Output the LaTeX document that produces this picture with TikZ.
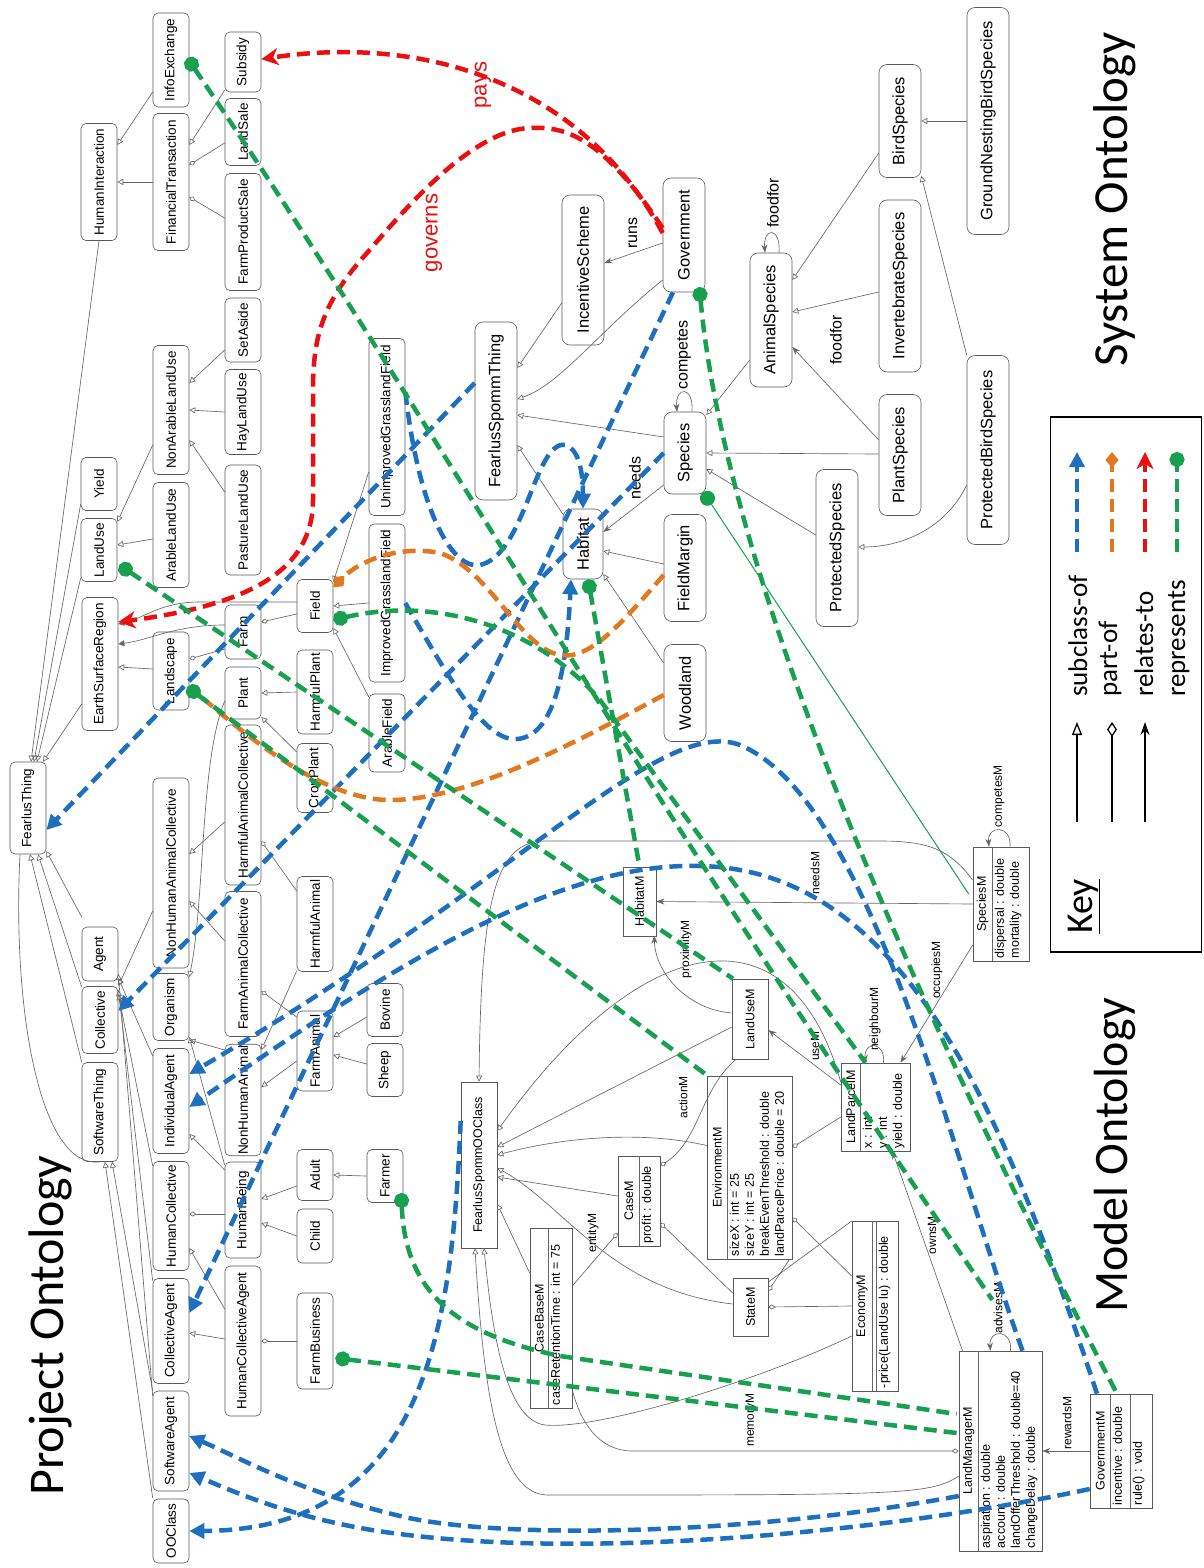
\documentclass[tikz,border=0pt]{standalone}
\usepackage{fontspec}
\setmainfont{Liberation Sans}
\newfontfamily\calib{Carlito}
\usetikzlibrary{arrows.meta,calc}
\definecolor{cblue}{RGB}{30,112,190}
\definecolor{corange}{RGB}{226,120,32}
\definecolor{cred}{RGB}{232,16,16}
\definecolor{cgreen}{RGB}{24,160,80}
\begin{document}
\begin{tikzpicture}[x=1pt,y=-1pt,
  pn/.style={draw=black!65, fill=white, rounded corners=5pt, rotate=90, minimum height=36pt, inner sep=1pt, line width=0.6pt, font=\fontsize{13.5}{14}\selectfont},
  sn/.style={pn, minimum height=42pt, rounded corners=8pt, font=\fontsize{16.5}{17}\selectfont},
  mb/.style={draw=black!65, fill=white, rotate=90, inner sep=0pt, line width=0.6pt, font=\fontsize{12.5}{15}\selectfont},
  mt/.style={rotate=90, inner sep=0pt, font=\fontsize{12.5}{15}\selectfont},
  ma/.style={mt, anchor=north west, align=left},
  el/.style={rotate=90, inner sep=1pt, font=\fontsize{12}{12}\selectfont},
  sl/.style={rotate=90, inner sep=1pt, font=\fontsize{16}{16}\selectfont},
  rl/.style={rotate=90, inner sep=1pt, text=cred, font=\fontsize{22}{22}\selectfont},
  ge/.style={draw=black!60, line width=0.65pt},
  sub/.style={ge, -{Triangle[open,length=6pt,width=6pt]}},
  part/.style={ge, -{Diamond[open,length=7pt,width=5pt]}},
  rel/.style={ge, -{Stealth[length=8pt,width=6pt]}},
  dsh/.style={line width=4.5pt, dash pattern=on 13pt off 7pt},
  bl/.style={dsh, draw=cblue, -{Triangle[length=15pt,width=15pt]}},
  orn/.style={dsh, draw=corange, -{Diamond[length=16pt,width=13pt]}},
  rd/.style={dsh, draw=cred, -{Stealth[length=17pt,width=17pt,inset=5pt]}},
  gr/.style={dsh, draw=cgreen, {Circle[length=15pt]}-},
  grt/.style={draw=cgreen, line width=1pt, {Circle[length=15pt]}-},
  ttl/.style={rotate=90, anchor=base west, inner sep=0pt, font=\calib\fontsize{50}{50}\selectfont},
  ktxt/.style={rotate=90, anchor=base west, inner sep=0pt, font=\calib\fontsize{27}{27}\selectfont}
]
\useasboundingbox (0,0) rectangle (1203,1568);
\fill[white] (0,0) rectangle (1203,1568);

% ---------------- Project ontology nodes
\node[pn, minimum width=94pt] (InfoExchange) at (171,60) {InfoExchange};
\node[pn, minimum width=60pt] (Subsidy) at (243,62) {Subsidy};
\node[pn, minimum width=117pt] (HumanInteraction) at (99,182) {HumanInteraction};
\node[pn, minimum width=137pt] (FinancialTransaction) at (171,182) {FinancialTransaction};
\node[pn, minimum width=67pt] (LandSale) at (243,132) {LandSale};
\node[pn, minimum width=117pt] (FarmProductSale) at (243,232) {FarmProductSale};
\node[pn, minimum width=64pt] (SetAside) at (243,330) {SetAside};
\node[pn, minimum width=129pt] (NonArableLandUse) at (171,410) {NonArableLandUse};
\node[pn, minimum width=85pt] (HayLandUse) at (243,412) {HayLandUse};
\node[pn, minimum width=53pt] (Yield) at (99,484) {Yield};
\node[pn, minimum width=63pt] (LandUse) at (99,550) {LandUse};
\node[pn, minimum width=105pt] (ArableLandUse) at (171,535) {ArableLandUse};
\node[pn, minimum width=110pt] (PastureLandUse) at (243,520) {PastureLandUse};
\node[pn, minimum width=133pt] (EarthSurfaceRegion) at (100,664) {EarthSurfaceRegion};
\node[pn, minimum width=78pt] (Landscape) at (171,671) {Landscape};
\node[pn, minimum width=54pt] (Farm) at (243,632) {Farm};
\node[pn, minimum width=52pt] (Plant) at (243,693) {Plant};
\node[pn, minimum width=53pt] (Field) at (315,606) {Field};
\node[pn, minimum width=84pt] (HarmfulPlant) at (315,692) {HarmfulPlant};
\node[pn, minimum width=69pt] (CropPlant) at (315,778) {CropPlant};
\node[pn, minimum width=177pt] (UnimprovedGrasslandField) at (387,427) {UnimprovedGrasslandField};
\node[pn, minimum width=158pt] (ImprovedGrasslandField) at (387,603) {ImprovedGrasslandField};
\node[pn, minimum width=78pt] (ArableField) at (387,733) {ArableField};
\node[pn, minimum width=92pt] (FearlusThing) at (28,808) {FearlusThing};
\node[pn, minimum width=54pt] (Agent) at (100,954) {Agent};
\node[pn, minimum width=67pt] (Collective) at (100,1020) {Collective};
\node[pn, minimum width=99pt] (SoftwareThing) at (100,1112) {SoftwareThing};
\node[pn, minimum width=190pt] (NonHumanAnimalCollective) at (171,873) {NonHumanAnimalCollective};
\node[pn, minimum width=160pt] (HarmfulAnimalCollective) at (243,805) {HarmfulAnimalCollective};
\node[pn, minimum width=67pt] (Organism) at (171,1007) {Organism};
\node[pn, minimum width=145pt] (FarmAnimalCollective) at (243,964) {FarmAnimalCollective};
\node[pn, minimum width=95pt] (HarmfulAnimal) at (315,924) {HarmfulAnimal};
\node[pn, minimum width=105pt] (IndividualAgent) at (171,1101) {IndividualAgent};
\node[pn, minimum width=108pt] (NonHumanAnimal) at (243,1100) {NonHumanAnimal};
\node[pn, minimum width=80pt] (FarmAnimal) at (315,1051) {FarmAnimal};
\node[pn, minimum width=53pt] (Bovine) at (385,1010) {Bovine};
\node[pn, minimum width=53pt] (Sheep) at (385,1070) {Sheep};
\node[pn, minimum width=109pt] (HumanCollective) at (171,1216) {HumanCollective};
\node[pn, minimum width=96pt] (HumanBeing) at (243,1210) {HumanBeing};
\node[pn, minimum width=51pt] (Adult) at (315,1175) {Adult};
\node[pn, minimum width=53pt] (Farmer) at (385,1176) {Farmer};
\node[pn, minimum width=54pt] (Child) at (315,1236) {Child};
\node[pn, minimum width=105pt] (CollectiveAgent) at (171,1331) {CollectiveAgent};
\node[pn, minimum width=150pt] (HumanCollectiveAgent) at (243,1341) {HumanCollectiveAgent};
\node[pn, minimum width=96pt] (FarmBusiness) at (315,1341) {FarmBusiness};
\node[pn, minimum width=100pt] (SoftwareAgent) at (171,1441) {SoftwareAgent};
\node[pn, minimum width=64pt] (OOClass) at (171,1531) {OOClass};

% ---------------- System ontology nodes
\node[sn, minimum width=150pt] (IncentiveScheme) at (583,270) {IncentiveScheme};
\node[sn, minimum width=114pt] (Government) at (684,235) {Government};
\node[sn, minimum width=178pt] (FearlusSpommThing) at (496,411) {FearlusSpommThing};
\node[sn, minimum width=134pt] (AnimalSpecies) at (771,320) {AnimalSpecies};
\node[sn, minimum width=113pt] (BirdSpecies) at (900,121) {BirdSpecies};
\node[sn, minimum width=227pt] (GroundNestingBirdSpecies) at (988,121) {GroundNestingBirdSpecies};
\node[sn, minimum width=172pt] (InvertebrateSpecies) at (900,286) {InvertebrateSpecies};
\node[sn, minimum width=189pt] (ProtectedBirdSpecies) at (988,450) {ProtectedBirdSpecies};
\node[sn, minimum width=121pt] (PlantSpecies) at (900,455) {PlantSpecies};
\node[sn, minimum width=157pt] (ProtectedSpecies) at (837,548) {ProtectedSpecies};
\node[sn, minimum width=82pt] (Species) at (685,453) {Species};
\node[sn, minimum width=70pt, minimum height=40pt] (Habitat) at (583,544) {Habitat};
\node[sn, minimum width=107pt] (FieldMargin) at (685,568) {FieldMargin};
\node[sn, minimum width=97pt] (Woodland) at (685,693) {Woodland};

% ---------------- Model ontology nodes
\node[mb, minimum width=69pt, minimum height=33pt] (HabitatM) at (639.5,901.5) {HabitatM};
\node[mb, minimum width=80pt, minimum height=36pt] (LandUseM) at (750,1019) {LandUseM};
\node[mb, minimum width=166pt, minimum height=36pt] (FearlusSpommOOClass) at (479,1165) {FearlusSpommOOClass};
\node[mb, minimum width=58pt, minimum height=35pt] (StateM) at (750.5,1307) {StateM};
\node[mb, minimum width=183pt, minimum height=85pt] (EnvironmentM) at (749.5,1167.5) {};
\node[mb, minimum width=90pt, minimum height=42pt] (CaseM) at (639,1201) {};
\node[mb, minimum width=180pt, minimum height=42pt] (CaseBaseM) at (551,1318) {};
\node[mb, minimum width=88pt, minimum height=69pt] (LandParcelM) at (875.5,1107) {};
\node[mb, minimum width=114pt, minimum height=56pt] (SpeciesM) at (1001,904) {};
\node[mb, minimum width=170pt, minimum height=46pt] (EconomyM) at (875,1306) {};
\node[mb, minimum width=200pt, minimum height=83pt] (LandManagerM) at (1000.5,1451) {};
\node[mb, minimum width=114pt, minimum height=62pt] (GovernmentM) at (1121,1451) {};

% compartments
\foreach \n/\d in {EnvironmentM/21, CaseM/22, CaseBaseM/19, LandParcelM/20, SpeciesM/20, EconomyM/21, EconomyM/25, LandManagerM/20, GovernmentM/21, GovernmentM/41}
  \draw[ge] ($(\n.north east)+(\d,0)$) -- ($(\n.north west)+(\d,0)$);
\node[mt] (EnvironmentMn) at ($(EnvironmentM.north)+(10.5,0)$) {EnvironmentM};
\node[ma] (EnvironmentMa) at ($(EnvironmentM.north west)+(23,-3)$) {sizeX : int = 25\\sizeY : int = 25\\breakEvenThreshold : double\\landParcelPrice : double = 20};
\node[mt] (CaseMn) at ($(CaseM.north)+(11,0)$) {CaseM};
\node[ma] (CaseMa) at ($(CaseM.north west)+(24,-3)$) {profit : double};
\node[mt] (CaseBaseMn) at ($(CaseBaseM.north)+(9.5,0)$) {CaseBaseM};
\node[ma] (CaseBaseMa) at ($(CaseBaseM.north west)+(21,-3)$) {caseRetentionTime : int = 75};
\node[mt] (LandParcelMn) at ($(LandParcelM.north)+(10,0)$) {LandParcelM};
\node[ma] (LandParcelMa) at ($(LandParcelM.north west)+(22,-3)$) {x : int\\y : int\\yield : double};
\node[mt] (SpeciesMn) at ($(SpeciesM.north)+(10,0)$) {SpeciesM};
\node[ma] (SpeciesMa) at ($(SpeciesM.north west)+(22,-3)$) {dispersal : double\\mortality : double};
\node[mt] (EconomyMn) at ($(EconomyM.north)+(10.5,0)$) {EconomyM};
\node[ma] (EconomyMa) at ($(EconomyM.north west)+(27,-3)$) {-price(LandUse lu) : double};
\node[mt] (LandManagerMn) at ($(LandManagerM.north)+(10,0)$) {LandManagerM};
\node[ma] (LandManagerMa) at ($(LandManagerM.north west)+(22,-3)$) {aspiration : double\\account : double\\landOfferThreshold : double=40\\changeDelay : double};
\node[mt] (GovernmentMn) at ($(GovernmentM.north)+(10.5,0)$) {GovernmentM};
\node[ma] (GovernmentMa) at ($(GovernmentM.north west)+(23,-3)$) {incentive : double};
\node[ma] (GovernmentMo) at ($(GovernmentM.north west)+(43,-3)$) {rule() : void};

% ---------------- Project ontology gray edges
\draw[sub] ($(InfoExchange.north)+(0,32)$) -- ($(HumanInteraction.south)+(0,-37)$);
\draw[sub] (FinancialTransaction.north) -- (HumanInteraction.south);
\draw[sub] ($(Subsidy.north)+(0,28)$) -- ($(FinancialTransaction.south)+(0,-37)$);
\draw[part] ($(LandSale.north)+(0,11)$) -- ($(FinancialTransaction.south)+(0,-17)$);
\draw[part] ($(FarmProductSale.north)+(0,-14)$) -- ($(FinancialTransaction.south)+(0,15)$);
\draw[sub] (HumanInteraction.west) -- ($(FearlusThing.east)+(3,0)$);
\draw[sub] ($(Yield.north)+(0,20)$) -- ($(FearlusThing.east)+(6,0)$);
\draw[sub] ($(LandUse.north)+(0,28)$) -- ($(FearlusThing.east)+(9,0)$);
\draw[sub] ($(EarthSurfaceRegion.north)+(0,40)$) -- ($(FearlusThing.east)+(15,0)$);
\draw[sub] ($(NonArableLandUse.north)+(0,35)$) -- ($(LandUse.south)+(0,-28)$);
\draw[sub] ($(ArableLandUse.north)+(0,4)$) -- ($(LandUse.south)+(0,-5)$);
\draw[sub] (HayLandUse.north) -- (NonArableLandUse.south);
\draw[sub] ($(PastureLandUse.north)+(0,-28)$) -- ($(NonArableLandUse.south)+(0,30)$);
\draw[sub] ($(SetAside.north)+(0,20)$) -- ($(NonArableLandUse.south)+(0,-27)$);
\draw[sub] ($(Landscape.north)+(0,-2)$) -- ($(EarthSurfaceRegion.south)+(0,3)$);
\draw[ge, -{Triangle[length=6pt,width=6pt]}] ($(Field.north)+(0,-4)$) -- (200,602) .. controls (160,602) and (145,618) .. ($(EarthSurfaceRegion.south)+(0,-40)$);
\draw[ge, -{Triangle[length=6pt,width=6pt]}] ($(Farm.north)+(0,-7)$) .. controls (175,625) and (150,640) .. ($(EarthSurfaceRegion.south)+(0,-20)$);
\draw[part] ($(Field.north)+(0,8)$) -- ($(Farm.south)+(0,-10)$);
\draw[part] ($(Farm.north)+(0,17)$) -- ($(Landscape.south)+(0,-12)$);
\draw[sub] (HarmfulPlant.north) -- (Plant.south);
\draw[sub] ($(CropPlant.north)+(0,-26)$) -- ($(Plant.south)+(0,24)$);
\draw[sub] (ImprovedGrasslandField.north) -- (Field.south);
\draw[sub] ($(UnimprovedGrasslandField.north)+(0,45)$) -- ($(Field.south)+(0,-24)$);
\draw[sub] ($(ArableField.north)+(0,-36)$) -- ($(Field.south)+(0,22)$);
\draw[sub] ($(Plant.north)+(0,8)$) .. controls (200,760) and (205,900) .. ($(Organism.south)+(0,-30)$);
\draw[sub] ($(HarmfulAnimalCollective.north)+(0,17)$) -- ($(NonHumanAnimalCollective.south)+(0,-19)$);
\draw[sub] ($(FarmAnimalCollective.north)+(0,-23)$) -- ($(NonHumanAnimalCollective.south)+(0,28)$);
\draw[sub] ($(NonHumanAnimalCollective.north)+(0,38)$) -- ($(Collective.south)+(0,-34)$);
\draw[sub] ($(Agent.north)+(0,-37)$) -- ($(FearlusThing.south)+(0,43)$);
\draw[sub] ($(Collective.north)+(0,-33)$) -- ($(FearlusThing.west)+(10,0)$);
\draw[sub] ($(SoftwareThing.north)+(0,-50)$) -- ($(FearlusThing.west)+(2,0)$);
\draw[ge] ($(FearlusThing.west)+(-8,0)$) .. controls (12,1010) and (40,1170) .. (SoftwareThing.west);
\draw[sub] ($(OOClass.north)+(0,-33)$) -- ($(SoftwareThing.west)+(5,0)$);
\draw[sub] ($(SoftwareAgent.north)+(0,-50)$) -- ($(SoftwareThing.west)+(12,0)$);
\draw[sub] ($(SoftwareAgent.north)+(0,-45)$) -- ($(Agent.south)+(0,20)$);
\draw[sub] ($(IndividualAgent.north)+(0,-45)$) -- ($(Agent.south)+(0,24)$);
\draw[sub] ($(CollectiveAgent.north)+(0,-50)$) -- ($(Collective.south)+(0,-30)$);
\draw[sub] ($(HumanCollective.north)+(0,-50)$) -- ($(Collective.south)+(0,-26)$);
\draw[part] ($(HumanBeing.north)+(0,4)$) -- ($(HumanCollective.south)+(0,-2)$);
\draw[sub] ($(HumanCollectiveAgent.north)+(0,-32)$) -- ($(HumanCollective.south)+(0,32)$);
\draw[sub] ($(HumanCollectiveAgent.north)+(0,-2)$) -- ($(CollectiveAgent.south)+(0,2)$);
\draw[part] (FarmBusiness.north) -- (HumanCollectiveAgent.south);
\draw[sub] ($(Adult.north)+(0,11)$) -- ($(HumanBeing.south)+(0,-11)$);
\draw[sub] (Child.north) -- ($(HumanBeing.south)+(0,13)$);
\draw[sub] (Farmer.north) -- (Adult.south);
\draw[sub] ($(HumanBeing.north)+(0,-45)$) -- ($(Organism.south)+(0,30)$);
\draw[sub] ($(NonHumanAnimal.north)+(0,-50)$) -- ($(Organism.south)+(0,33)$);
\draw[sub] ($(HumanBeing.north)+(0,-40)$) -- ($(IndividualAgent.south)+(0,33)$);
\draw[sub] ($(FarmAnimal.north)+(0,10)$) -- ($(NonHumanAnimal.south)+(0,-13)$);
\draw[part] ($(FarmAnimal.north)+(0,-34)$) -- ($(FarmAnimalCollective.south)+(0,27)$);
\draw[part] ($(HarmfulAnimal.north)+(0,-33)$) -- ($(HarmfulAnimalCollective.south)+(0,36)$);
\draw[sub] ($(HarmfulAnimal.north)+(0,47)$) -- ($(NonHumanAnimal.south)+(0,-50)$);
\draw[sub] ($(Bovine.north)+(0,7)$) -- ($(FarmAnimal.south)+(0,-14)$);
\draw[sub] ($(Sheep.north)+(0,-6)$) -- ($(FarmAnimal.south)+(0,4)$);

% ---------------- System ontology gray edges
\draw[sub] ($(IncentiveScheme.north)+(0,33)$) -- ($(FearlusSpommThing.south)+(0,-43)$);
\draw[sub] ($(Government.north)+(0,45)$) .. controls (600,330) and (560,385) .. ($(FearlusSpommThing.south)+(0,-12)$);
\draw[sub] ($(Species.north)+(0,-16)$) -- ($(FearlusSpommThing.south)+(0,4)$);
\draw[sub] ($(Habitat.north)+(0,-30)$) -- ($(FearlusSpommThing.south)+(0,34)$);
\draw[rel] ($(Government.north)+(0,8)$) -- ($(IncentiveScheme.south)+(0,-7)$);
\node[sl] (runs) at (633,233) {runs};
\draw[sub] ($(AnimalSpecies.north)+(0,40)$) -- ($(Species.south)+(0,-38)$);
\draw[sub] ($(PlantSpecies.north)+(0,-1)$) -- (Species.south);
\draw[sub] ($(ProtectedSpecies.north)+(0,-13)$) -- ($(Species.south)+(0,16)$);
\draw[sub] ($(InvertebrateSpecies.north)+(0,6)$) -- ($(AnimalSpecies.south)+(0,-8)$);
\draw[sub] ($(BirdSpecies.north)+(0,32)$) -- ($(AnimalSpecies.south)+(0,-40)$);
\draw[rel] ($(PlantSpecies.north)+(0,-15)$) -- ($(AnimalSpecies.south)+(0,27)$);
\node[sl] (foodfor2) at (836,340) {foodfor};
\draw[sub] (GroundNestingBirdSpecies.north) -- (BirdSpecies.south);
\draw[sub] ($(ProtectedBirdSpecies.north)+(0,-95)$) -- ($(BirdSpecies.south)+(0,55)$);
\draw[sub] ($(ProtectedBirdSpecies.north)+(0,35)$) .. controls (945,530) and (900,547) .. ($(ProtectedSpecies.south)+(0,-1)$);
\draw[sub] ($(FieldMargin.north)+(0,-4)$) -- ($(Habitat.south)+(0,7)$);
\draw[sub] ($(Woodland.north)+(0,-30)$) -- ($(Habitat.south)+(0,30)$);
\draw[rel] ($(Species.north)+(0,32)$) -- ($(Habitat.south)+(0,-12)$);
\node[sl] (needs) at (635,478) {needs};
\draw[rel] ($(Species.east)+(7,0)$) .. controls +(2,-26) and +(-2,-26) .. ($(Species.east)+(-8,0)$);
\node[sl] (competes) at (684,355) {competes};
\draw[rel] ($(AnimalSpecies.east)+(8,0)$) .. controls +(2,-26) and +(-2,-26) .. ($(AnimalSpecies.east)+(-6,0)$);
\node[sl] (foodfor1) at (773,203) {foodfor};

% ---------------- Model ontology gray edges
\draw[sub] ($(SpeciesM.north)+(0,-24)$) .. controls (950,850) and (930,841) .. (880,841) -- (545,841) .. controls (495,841) and (481,900) .. (FearlusSpommOOClass.east);
\draw[rel] (SpeciesM.north) -- (HabitatM.south);
\node[el] (needsM) at (815,873) {needsM};
\draw[rel] ($(LandUseM.north)+(0,-6)$) .. controls (690,1010) and (655,975) .. ($(HabitatM.south)+(-2,34)$);
\node[el] (proximityM) at (686,949) {proximityM};
\draw[sub] ($(LandParcelM.north)+(0,-25)$) .. controls (790,900) and (640,930) .. ($(FearlusSpommOOClass.south)+(0,-34)$);
\draw[sub] ($(LandUseM.north)+(0,8)$) -- ($(FearlusSpommOOClass.south)+(0,-18)$);
\draw[sub] ($(EnvironmentM.north)+(0,-22)$) .. controls (640,1130) and (560,1138) .. ($(FearlusSpommOOClass.south)+(0,-10)$);
\draw[part] ($(LandUseM.west)+(-14,0)$) .. controls (700,1090) and (700,1140) .. ($(CaseM.south)+(0,-35)$);
\node[el] (actionM) at (683,1097) {actionM};
\draw[rel] ($(LandParcelM.north)+(0,-22)$) -- ($(LandUseM.south)+(0,11)$);
\node[el] (useM) at (815,1046) {useM};
\draw[rel] ($(LandParcelM.east)+(8,0)$) .. controls +(2,-22) and +(-2,-22) .. ($(LandParcelM.east)+(-10,0)$);
\node[el] (neighbourM) at (875,1019) {neighbourM};
\draw[rel] ($(SpeciesM.north)+(0,41)$) -- ($(LandParcelM.east)+(25,0)$);
\node[el] (occupiesM) at (937,970) {occupiesM};
\draw[rel] ($(SpeciesM.east)+(9,0)$) .. controls +(2,-22) and +(-2,-22) .. ($(SpeciesM.east)+(-12,0)$);
\node[el] (competesM) at (999,796) {competesM};
\draw[rel] ($(LandManagerM.east)+(-38,0)$) -- ($(LandParcelM.west)+(17,0)$);
\node[el] (ownsM) at (932,1235) {ownsM};
\draw[rel] ($(LandManagerM.east)+(10,0)$) .. controls +(2,-22) and +(-2,-22) .. ($(LandManagerM.east)+(-10,0)$);
\node[el] (advisesM) at (998,1308) {advisesM};
\draw[rel] (GovernmentM.north) -- (LandManagerM.south);
\node[el] (rewardsM) at (1067,1423) {rewardsM};
\draw[ge, {Diamond[open,length=7pt,width=5pt]}-] (LandManagerM.north) -- (633,1451) .. controls (597,1451) and (580,1420) .. ($(CaseBaseM.south)+(0,72)$);
\node[el] (memoryM) at (751,1420) {memoryM};
\draw[sub] ($(LandManagerM.north)+(0,25)$) .. controls (930,1495) and (900,1495) .. (548,1495) .. controls (500,1495) and (484,1400) .. ($(FearlusSpommOOClass.west)+(-4,0)$);
\draw[sub] ($(EconomyM.north)+(0,30)$) .. controls (760,1380) and (600,1430) .. (545,1425) .. controls (505,1420) and (492,1330) .. ($(FearlusSpommOOClass.west)+(5,0)$);
\draw[sub] ($(CaseBaseM.north)+(0,-45)$) -- ($(FearlusSpommOOClass.south)+(0,39)$);
\draw[sub] ($(CaseM.north)+(0,-5)$) -- ($(FearlusSpommOOClass.south)+(0,12)$);
\draw[part] ($(CaseBaseM.south)+(0,-32)$) -- ($(CaseM.north)+(0,32)$);
\node[el] (entityM) at (593,1233) {entityM};
\draw[part] ($(StateM.north)+(0,-14)$) -- ($(CaseM.south)+(0,22)$);
\draw[sub] ($(StateM.north)+(0,-3)$) .. controls (610,1290) and (565,1205) .. ($(FearlusSpommOOClass.south)+(0,3)$);
\draw[part] ($(EnvironmentM.west)+(40,0)$) -- ($(StateM.south)+(0,-16)$);
\draw[part] (EconomyM.north) -- (StateM.south);
\draw[part] ($(EconomyM.north)+(0,-30)$) -- ($(EnvironmentM.south)+(0,50)$);
\draw[part] ($(LandParcelM.north)+(0,10)$) -- ($(EnvironmentM.south)+(0,-20)$);
\draw[ge] ($(EconomyM.north)+(0,-85)$) -- ($(StateM.south)+(0,-25)$);

% ---------------- Coloured links
% subclass-of (blue)
\draw[bl] ($(FearlusSpommThing.north)+(0,-28)$) -- ($(FearlusThing.south)+(0,22)$);
\draw[bl] ($(Government.west)+(-11,0)$) -- ($(CollectiveAgent.south)+(0,-18)$);
\draw[bl] (Species.north) -- ($(Collective.south)+(0,-9)$);
\draw[bl] ($(UnimprovedGrasslandField.south)+(0,-35)$) .. controls (420,520) and (455,570) .. (480,565) .. controls (525,555) and (535,440) .. (565,445) .. controls (578,448) and (583,470) .. (Habitat.east);
\draw[bl] (ImprovedGrasslandField.south) .. controls (450,680) and (485,742) .. (517,739) .. controls (552,736) and (566,680) .. ($(Habitat.west)+(-12,0)$);
\draw[bl] ($(LandManagerM.east)+(22,0)$) .. controls (950,1150) and (870,800) .. (740,745) .. controls (660,715) and (520,880) .. ($(IndividualAgent.south)+(0,-27)$);
\draw[bl] ($(GovernmentM.east)+(-24,0)$) .. controls (1000,1100) and (900,870) .. (700,866) .. controls (560,862) and (400,960) .. ($(IndividualAgent.south)+(0,6)$);
\draw[bl] ($(FearlusSpommOOClass.north)+(0,-44)$) .. controls (452,1320) and (430,1530) .. (OOClass.south);
\draw[bl] ($(LandManagerM.north)+(0,45)$) .. controls (750,1535) and (500,1540) .. (400,1516) .. controls (300,1492) and (240,1458) .. ($(SoftwareAgent.south)+(0,-5)$);
\draw[bl] ($(GovernmentM.north)+(0,38)$) .. controls (900,1530) and (600,1560) .. (400,1534) .. controls (300,1522) and (230,1490) .. ($(SoftwareAgent.south)+(0,32)$);
% part-of (orange)
\draw[orn] ($(FieldMargin.north)+(0,7)$) .. controls (620,625) and (590,660) .. (560,655) .. controls (520,648) and (490,570) .. (440,553) .. controls (400,545) and (360,560) .. (Field);
\draw[orn] ($(Woodland.north)+(0,2)$) .. controls (580,740) and (470,800) .. (390,800) .. controls (320,800) and (240,730) .. (Landscape);
% relates-to (red)
\draw[rd] ($(Government.north)+(0,-2)$) .. controls (580,80) and (420,35) .. (Subsidy);
\draw[rd] ($(Government.north)+(0,-7)$) .. controls (610,150) and (575,125) .. (530,128) .. controls (470,130) and (400,215) .. (367,253) .. controls (320,305) and (313,340) .. (313,392) -- (313,500) .. controls (313,570) and (250,605) .. ($(EarthSurfaceRegion.south)+(0,-42)$);
\node[rl] (pays) at (483,85) {pays};
\node[rl] (governs) at (434,233) {governs};
% represents (green)
\draw[gr] ($(Government.south)+(-6,52)$) .. controls (725,560) and (890,960) .. ($(GovernmentM.east)+(-4,0)$);
\draw[grt] ($(Species.south)+(-3,39)$) -- ($(SpeciesM.north)+(-4,-10)$);
\draw[gr] ($(Habitat.west)+(5,0)$) -- (HabitatM.east);
\draw[gr] ($(LandUse.south)+(2,15)$) -- ($(LandUseM.east)+(-17,0)$);
\draw[gr] ($(Landscape.south)+(-2,16)$) -- ($(EnvironmentM.east)+(-42,0)$);
\draw[gr] ($(Field.south)+(0,14)$) .. controls (440,595) and (540,630) .. (600,700) -- ($(LandParcelM.east)+(-10,0)$);
\draw[gr] ($(InfoExchange.south)+(-2,-2)$) .. controls (420,400) and (620,760) .. (advisesM);
\draw[gr] ($(FarmBusiness.south)+(2,17)$) -- ($(LandManagerM.north)+(-2,-18)$);
\draw[gr] ($(Farmer.south)+(-2,17)$) .. controls (405,1295) and (460,1335) .. (560,1356) -- ($(LandManagerM.north)+(-2,-37)$);

% ---------------- Titles
\node[ttl] (ProjectTitle) at (63,1496) {Project Ontology};
\node[ttl, font=\calib\fontsize{49}{49}\selectfont] (SystemTitle) at (1127,367) {System Ontology};
\node[ttl, font=\calib\fontsize{48}{48}\selectfont] (ModelTitle) at (1127,1313) {Model Ontology};

% ---------------- Key
\node[draw=black, line width=1.2pt, minimum width=151pt, minimum height=535pt, inner sep=0pt] (keybox) at (1126,684.5) {};
\node[rotate=90, anchor=base west, inner sep=0pt, font=\calib\fontsize{38}{38}\selectfont] (keytitle) at (1092,934) {\underline{Key}};
\coordinate (ka1) at (1077,822); \coordinate (kb1) at (1077,722);
\coordinate (ka2) at (1112,822); \coordinate (kb2) at (1112,722);
\coordinate (ka3) at (1145,822); \coordinate (kb3) at (1145,722);
\draw[line width=1.3pt, -{Triangle[open,length=13pt,width=10pt]}] (ka1) -- (kb1);
\draw[line width=1.3pt, -{Diamond[open,length=15pt,width=10pt]}] (ka2) -- (kb2);
\draw[line width=1.3pt, -{Stealth[length=13pt,width=9pt]}] (ka3) -- (kb3);
\node[ktxt] (ksub) at (1087,697) {subclass-of};
\node[ktxt] (kpart) at (1117,697) {part-of};
\node[ktxt] (krel) at (1153,697) {relates-to};
\node[ktxt] (krep) at (1185,697) {represents};
\coordinate (kc1) at (1077,552); \coordinate (kd1) at (1077,452);
\coordinate (kc2) at (1112,552); \coordinate (kd2) at (1112,452);
\coordinate (kc3) at (1145,552); \coordinate (kd3) at (1145,452);
\coordinate (kc4) at (1177,552); \coordinate (kd4) at (1177,452);
\draw[bl] (kc1) -- (kd1);
\draw[orn] (kc2) -- (kd2);
\draw[rd] (kc3) -- (kd3);
\draw[dsh, draw=cgreen, -{Circle[length=15pt]}] (kc4) -- (kd4);
\end{tikzpicture}
\end{document}
